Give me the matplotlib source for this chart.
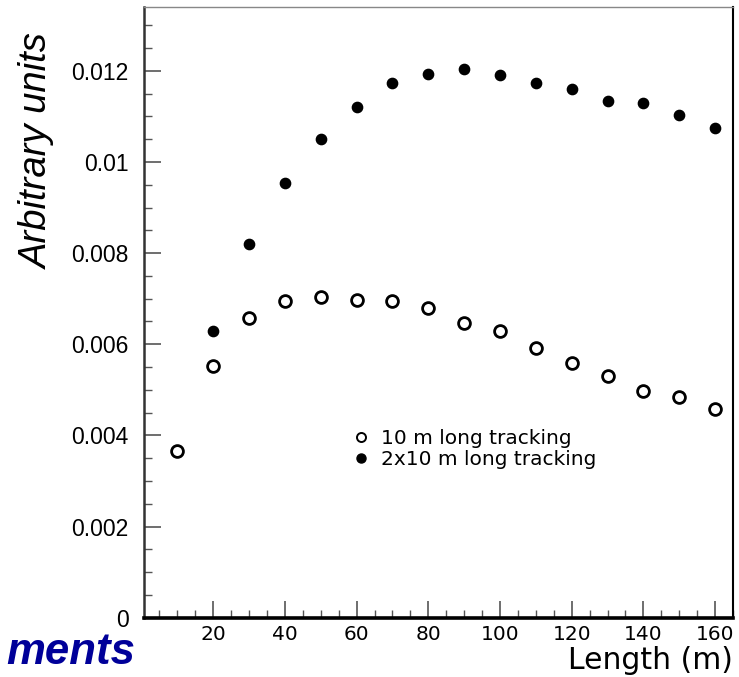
import matplotlib
matplotlib.use('Agg')
import matplotlib.pyplot as plt
from matplotlib.ticker import MultipleLocator, FixedFormatter, FixedLocator

# longueurs (m)
longueur_simple = [10, 20, 30, 40, 50, 60, 70, 80, 90, 100, 110, 120, 130, 140, 150, 160]
valeurs_simple = [0.00365, 0.00553, 0.00657, 0.00696, 0.00703, 0.00698, 0.00694, 0.00679,
                  0.00646, 0.00628, 0.00591, 0.00559, 0.00531, 0.00498, 0.00485, 0.00458]

longueur_double = [20, 30, 40, 50, 60, 70, 80, 90, 100, 110, 120, 130, 140, 150, 160]
valeurs_double = [0.00630, 0.00819, 0.00953, 0.01050, 0.01121, 0.01174, 0.01192, 0.01203,
                  0.01190, 0.01174, 0.01160, 0.01133, 0.01129, 0.01102, 0.01075]

label_simple = '10 m long tracking'
label_double = '2x10 m long tracking'

yticks = [0, 0.002, 0.004, 0.006, 0.008, 0.01, 0.012]
ytick_labels = ['0', '0.002', '0.004', '0.006', '0.008', '0.01', '0.012']
xticks = [20, 40, 60, 80, 100, 120, 140, 160]

W, H = 739, 677
fig = plt.figure(figsize=(W / 100, H / 100), dpi=100)
left, right, top, bottom = 144, 733, 7, 617.7
ax = fig.add_axes([left / W, 1 - bottom / H, (right - left) / W, (bottom - top) / H])

ax.plot(longueur_simple, valeurs_simple, 'o', ms=8.5, mfc='white', mec='black', mew=2.0,
        linestyle='none', zorder=3)
ax.plot(longueur_double, valeurs_double, 'o', ms=7.4, mfc='black', mec='black',
        linestyle='none', zorder=3)

ax.set_xlim(0.7, 165)
ax.set_ylim(0, 0.0134)

ax.yaxis.set_major_locator(FixedLocator(yticks))
ax.yaxis.set_major_formatter(FixedFormatter(ytick_labels))
ax.yaxis.set_minor_locator(MultipleLocator(0.0005))
ax.xaxis.set_major_locator(FixedLocator(xticks))
ax.xaxis.set_minor_locator(MultipleLocator(5))

ax.tick_params(axis='both', which='major', direction='in', length=12, width=1.2, color='#555555')
ax.tick_params(axis='both', which='minor', direction='in', length=6, width=1.0, color='#555555')
ax.tick_params(axis='y', which='both', right=False, pad=11)
ax.tick_params(axis='x', which='both', top=False, pad=5.5)

for lab in ax.get_yticklabels():
    lab.set_fontfamily('Liberation Sans')
    lab.set_fontsize(16.5)
for lab in ax.get_xticklabels():
    lab.set_fontfamily('DejaVu Sans')
    lab.set_fontsize(14.5)

ax.spines['left'].set_linewidth(1.8)
ax.spines['left'].set_color('#333333')
ax.spines['bottom'].set_linewidth(2.6)
ax.spines['bottom'].set_color('black')
ax.spines['right'].set_linewidth(1.5)
ax.spines['right'].set_color('black')
ax.spines['top'].set_linewidth(1.0)
ax.spines['top'].set_color('#888888')

# légende
ax.plot([], [], 'o', ms=6.5, mfc='white', mec='black', mew=1.4, label=label_simple)
ax.plot([], [], 'o', ms=6.5, mfc='black', mec='black', label=label_double)
handles, labels = ax.get_legend_handles_labels()
leg = ax.legend(handles[-2:], labels[-2:], loc='upper left',
                bbox_to_anchor=((341 - left) / (right - left), (bottom - 421) / (bottom - top)),
                frameon=False, handletextpad=0.4, labelspacing=0.12, handlelength=1.2,
                prop={'family': 'DejaVu Sans', 'size': 14.5}, borderaxespad=0)

fig.text(733 / W, 1 - 669 / H, 'Length (m)', ha='right', va='baseline',
         fontsize=21.5, family='DejaVu Sans')
fig.text(38 / W, 1 - 151 / H, 'Arbitrary units', rotation=90, ha='center', va='center',
         fontsize=27.5, style='italic', family='Liberation Sans')
fig.text(135 / W, 1 - 664 / H, 'ments', ha='right', va='baseline', fontsize=31.5,
         style='italic', weight='bold', color='#000099', family='Liberation Sans')

fig.savefig('out.png', dpi=100)
